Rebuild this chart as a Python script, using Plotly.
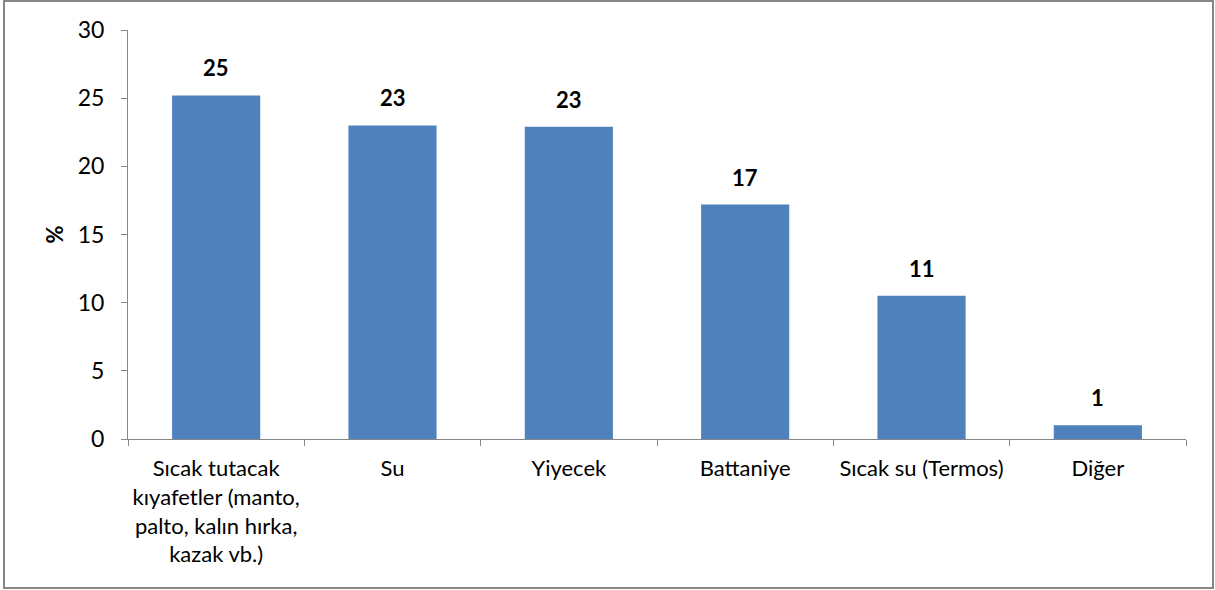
import plotly.graph_objects as go

categories = [
    "Sıcak tutacak<br>kıyafetler (manto,<br>palto, kalın hırka,<br>kazak vb.)",
    "Su",
    "Yiyecek",
    "Battaniye",
    "Sıcak su (Termos)",
    "Diğer",
]
values = [25.2, 23.0, 22.9, 17.2, 10.5, 1.0]
labels = ["25", "23", "23", "17", "11", "1"]

y_ticks = [0, 5, 10, 15, 20, 25, 30]

FONT = "Lato, Calibri, sans-serif"
BAR_COLOR = "#4f81bd"
AXIS_COLOR = "#868686"

W, H = 1215, 590
ML, MR, MT, MB = 128, 29, 30, 151
pw, ph = W - ML - MR, H - MT - MB


def px_to_paper(x, y):
    # pixel position on the page -> paper coords of the plot area
    return (x - ML) / pw, (H - MB - y) / ph


fig = go.Figure(
    go.Bar(
        x=categories,
        y=values,
        marker={"color": BAR_COLOR, "line": {"width": 0}},
        hoverinfo="x+y",
        showlegend=False,
    )
)

# bold value labels sitting above each bar
for cat, val, lab in zip(categories, values, labels):
    fig.add_annotation(
        x=cat, y=val, text=f"<b>{lab}</b>",
        showarrow=False, yanchor="bottom", yshift=12,
        font={"family": FONT, "size": 22, "color": "#000000"},
    )

# outer chart border
x0, y0 = px_to_paper(4, 588)
x1, y1 = px_to_paper(1213, 1)
fig.add_shape(
    type="rect", xref="paper", yref="paper",
    x0=x0, y0=y0, x1=x1, y1=y1,
    line={"color": AXIS_COLOR, "width": 2},
)

fig.update_layout(
    width=W, height=H,
    margin={"l": ML, "r": MR, "t": MT, "b": MB, "pad": 0},
    paper_bgcolor="white",
    plot_bgcolor="white",
    bargap=0.5,
    font={"family": FONT, "size": 22, "color": "#000000"},
    xaxis={
        "type": "category",
        "tickson": "boundaries",
        "ticks": "outside",
        "ticklen": 6,
        "tickcolor": AXIS_COLOR,
        "showline": True,
        "linecolor": AXIS_COLOR,
        "linewidth": 1,
        "showgrid": False,
        "zeroline": False,
        "ticklabelstandoff": 10,
        "tickfont": {"family": FONT, "size": 22},
    },
    yaxis={
        "range": [0, 30],
        "tickvals": y_ticks,
        "ticks": "outside",
        "ticklen": 6,
        "tickcolor": AXIS_COLOR,
        "showline": True,
        "linecolor": AXIS_COLOR,
        "linewidth": 1,
        "showgrid": False,
        "zeroline": False,
        "ticklabelstandoff": 12,
        "tickfont": {"family": FONT, "size": 23},
        "title": {"text": "<b>%</b>", "font": {"family": FONT, "size": 22}, "standoff": 8},
    },
)

# drop the default page margin so the figure sits at the window's corner
fig.write_html(
    "out.html",
    config={"displayModeBar": False},
    post_script="document.body.style.margin='0';",
)
